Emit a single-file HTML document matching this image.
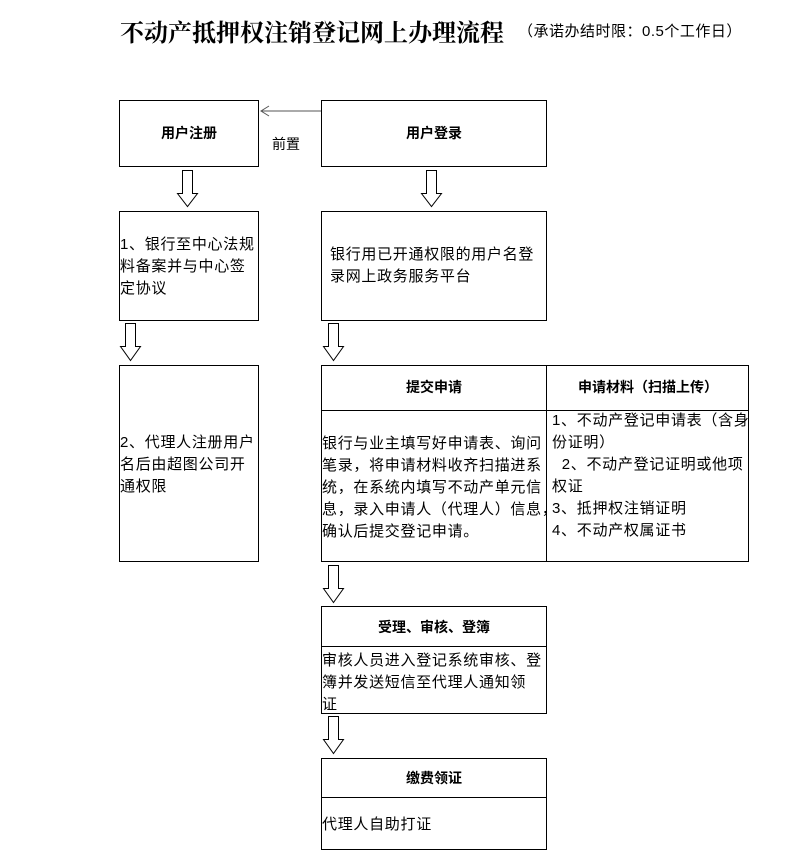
<!DOCTYPE html>
<html><head><meta charset="utf-8"><style>
body{margin:0;width:793px;height:862px;background:#fff;position:relative;font-family:"Liberation Sans","Noto Sans CJK SC",sans-serif;color:#000;overflow:hidden}
.b{position:absolute;border:1px solid #000;box-sizing:border-box}
.t{position:absolute;font-size:15px;line-height:22px;letter-spacing:0.7px;white-space:nowrap}
.h{font-weight:bold;text-align:center;font-size:14px;letter-spacing:0}
svg{position:absolute;left:0;top:0}
</style></head><body>
<div class="t" style="left:120px;top:14px;font-size:24px;line-height:34px;letter-spacing:0;font-weight:bold;font-family:'Noto Serif CJK SC',serif">不动产抵押权注销登记网上办理流程</div>
<div class="t" style="left:518px;top:21px;font-size:15px;letter-spacing:0.5px">（承诺办结时限：0.5个工作日）</div>

<div class="b" style="left:119px;top:100px;width:140px;height:67px"></div>
<div class="t h" style="left:119px;top:122px;width:140px">用户注册</div>
<div class="b" style="left:321px;top:100px;width:226px;height:67px"></div>
<div class="t h" style="left:321px;top:122px;width:226px">用户登录</div>
<div class="t" style="left:272px;top:133px;font-size:14px;letter-spacing:0">前置</div>

<div class="b" style="left:119px;top:211px;width:140px;height:110px"></div>
<div class="t" style="left:120px;top:234px">1、银行至中心法规<br>料备案并与中心签<br>定协议</div>
<div class="b" style="left:321px;top:211px;width:226px;height:110px"></div>
<div class="t" style="left:330px;top:244px">银行用已开通权限的用户名登<br>录网上政务服务平台</div>

<div class="b" style="left:119px;top:365px;width:140px;height:197px"></div>
<div class="t" style="left:120px;top:432px">2、代理人注册用户<br>名后由超图公司开<br>通权限</div>

<div class="b" style="left:321px;top:365px;width:428px;height:197px"></div>
<div class="b" style="left:321px;top:410px;width:428px;height:1px;border-width:1px 0 0 0"></div>
<div class="b" style="left:546px;top:365px;width:1px;height:197px;border-width:0 0 0 1px"></div>
<div class="t h" style="left:321px;top:376px;width:226px">提交申请</div>
<div class="t h" style="left:547px;top:376px;width:202px">申请材料（扫描上传）</div>
<div class="t" style="left:322px;top:433px">银行与业主填写好申请表、询问<br>笔录，将申请材料收齐扫描进系<br>统，在系统内填写不动产单元信<br>息，录入申请人（代理人）信息，<br>确认后提交登记申请。</div>
<div class="t" style="left:552px;top:410px">1、不动产登记申请表（含身<br>份证明）<br>&nbsp;&nbsp;2、不动产登记证明或他项<br>权证<br>3、抵押权注销证明<br>4、不动产权属证书</div>

<div class="b" style="left:321px;top:606px;width:226px;height:108px"></div>
<div class="b" style="left:321px;top:646px;width:226px;height:1px;border-width:1px 0 0 0"></div>
<div class="t h" style="left:321px;top:616px;width:226px">受理、审核、登簿</div>
<div class="t" style="left:322px;top:650px">审核人员进入登记系统审核、登<br>簿并发送短信至代理人通知领<br>证</div>

<div class="b" style="left:321px;top:758px;width:226px;height:92px"></div>
<div class="b" style="left:321px;top:797px;width:226px;height:1px;border-width:1px 0 0 0"></div>
<div class="t h" style="left:321px;top:767px;width:226px">缴费领证</div>
<div class="t" style="left:322px;top:814px">代理人自助打证</div>

<svg width="793" height="862">
<line x1="321" y1="111" x2="261" y2="111" stroke="#555"/>
<polyline points="269,106 261,111 269,116" fill="none" stroke="#555"/>
<g fill="#fff" stroke="#000" stroke-width="1">
<polygon points="182.5,170.5 192.5,170.5 192.5,193.5 197.5,193.5 187.5,206.5 177.5,193.5 182.5,193.5"/>
<polygon points="426.5,170.5 436.5,170.5 436.5,193.5 441.5,193.5 431.5,206.5 421.5,193.5 426.5,193.5"/>
<polygon points="125.5,323.5 135.5,323.5 135.5,346.5 140.5,346.5 130.5,360.5 120.5,346.5 125.5,346.5"/>
<polygon points="328.5,323.5 338.5,323.5 338.5,346.5 343.5,346.5 333.5,360.5 323.5,346.5 328.5,346.5"/>
<polygon points="328.5,565.5 338.5,565.5 338.5,588.5 343.5,588.5 333.5,602.5 323.5,588.5 328.5,588.5"/>
<polygon points="328.5,716.5 338.5,716.5 338.5,739.5 343.5,739.5 333.5,753.5 323.5,739.5 328.5,739.5"/>
</g>
</svg>
</body></html>
